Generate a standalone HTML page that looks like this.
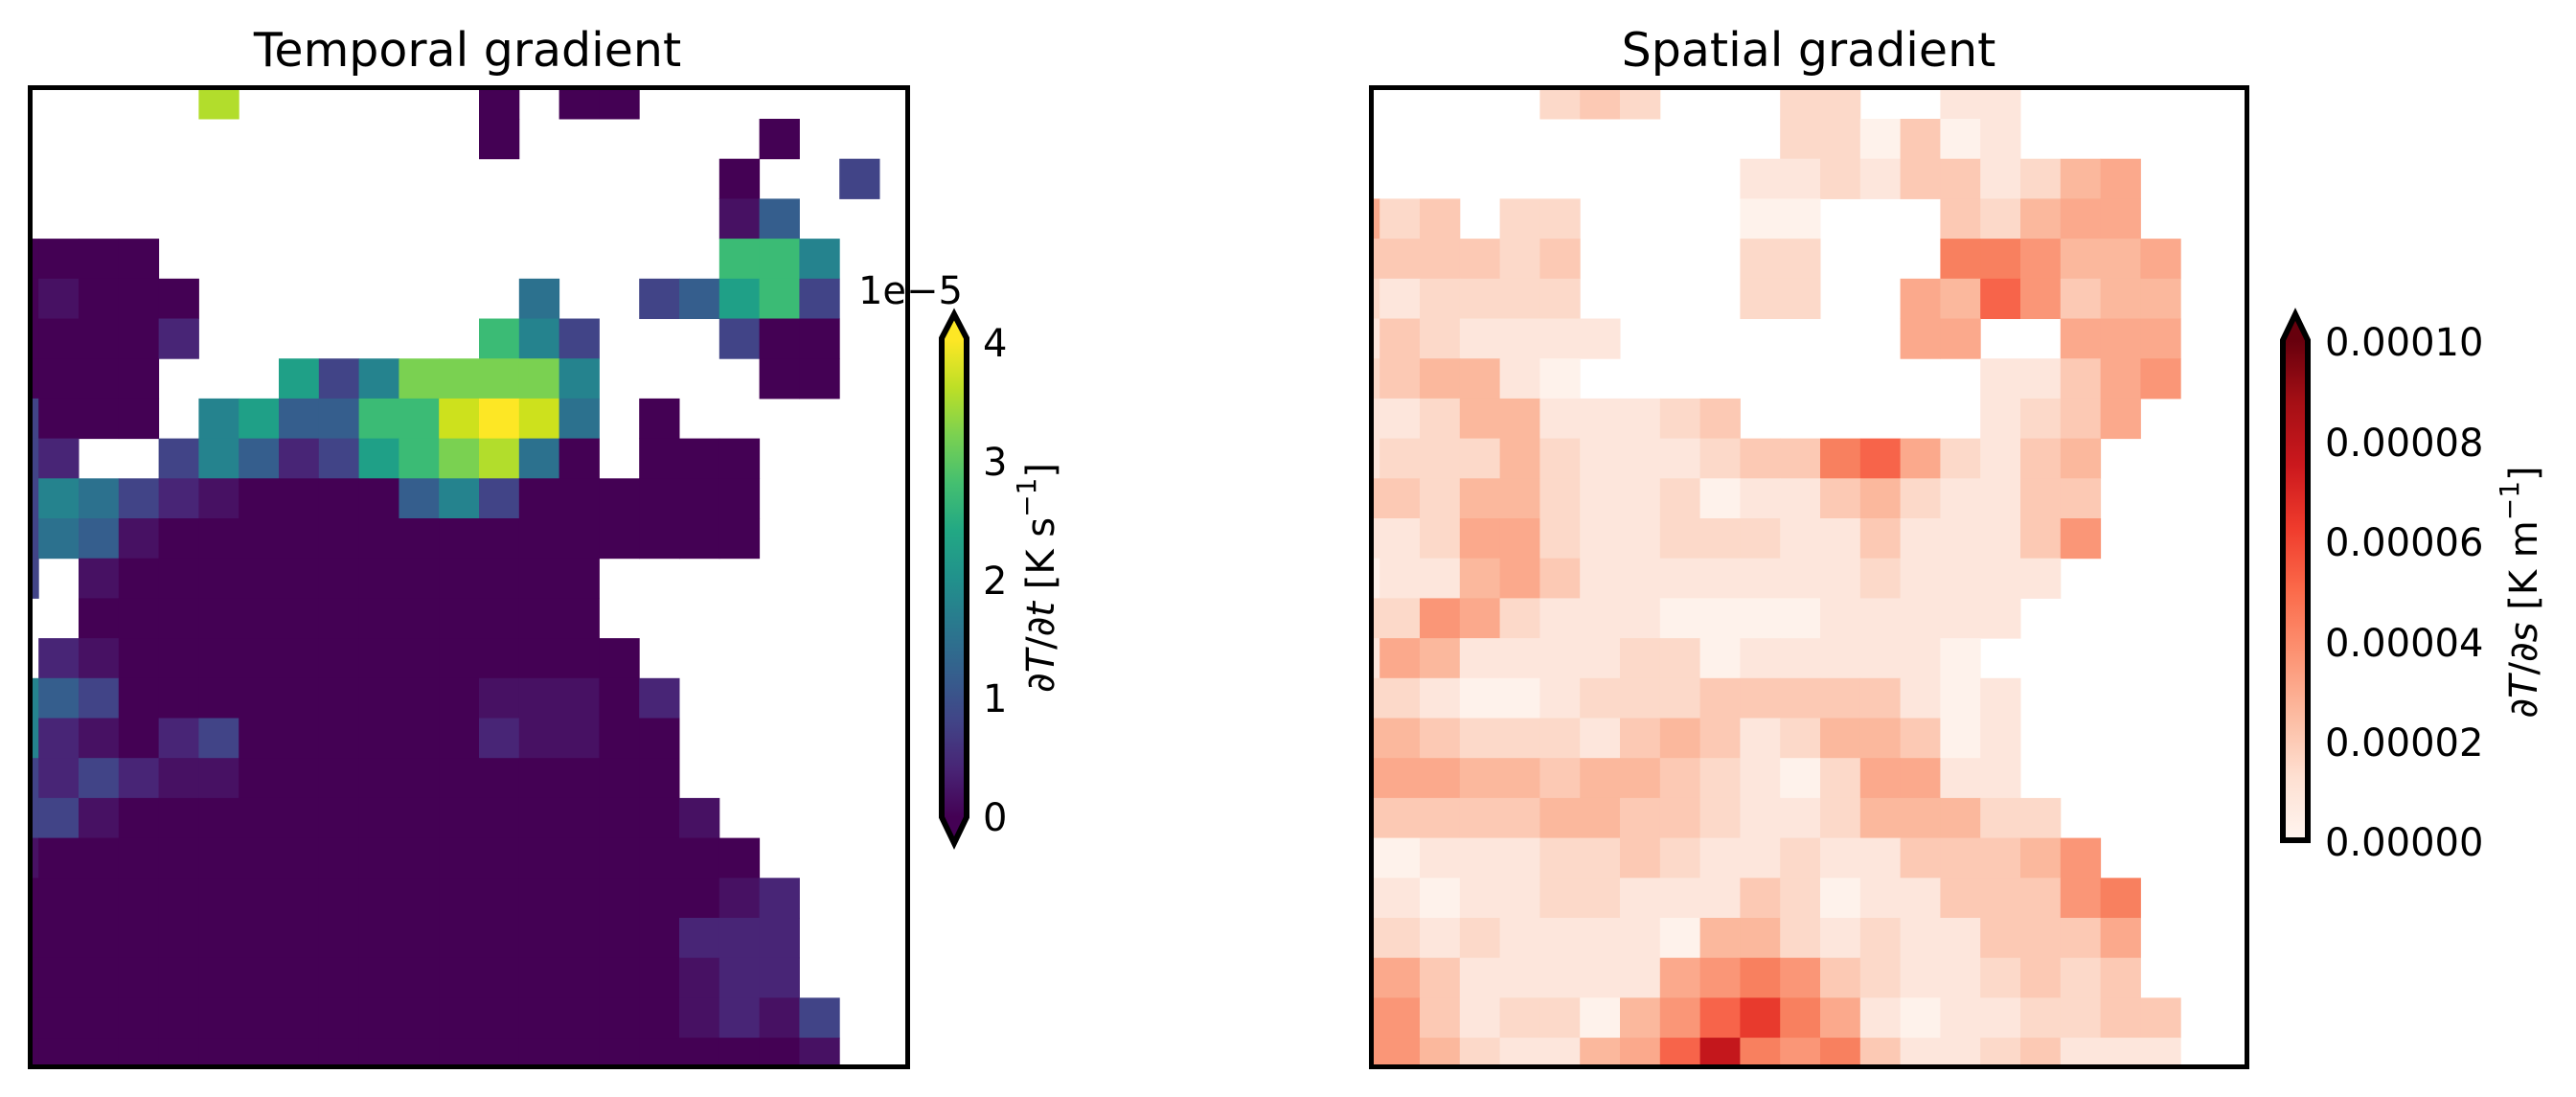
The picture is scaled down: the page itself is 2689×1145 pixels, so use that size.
<!DOCTYPE html>
<html><head><meta charset="utf-8"><style>
html,body{margin:0;padding:0;background:#fff;}
svg{display:block;font-family:"DejaVu Sans","Liberation Sans",sans-serif;}
</style></head><body>
<svg id="s" width="2689" height="1145" viewBox="0 0 2689 1145" xmlns="http://www.w3.org/2000/svg">
<defs>
<clipPath id="cl"><rect x="29" y="91" width="919" height="1024"/></clipPath>
<clipPath id="cr"><rect x="1429" y="91" width="916" height="1024"/></clipPath>
<linearGradient id="gv" gradientUnits="userSpaceOnUse" x1="0" y1="853" x2="0" y2="355">
<stop offset="0" stop-color="#440154"/><stop offset="0.1" stop-color="#482475"/><stop offset="0.2" stop-color="#414487"/><stop offset="0.3" stop-color="#355f8d"/><stop offset="0.4" stop-color="#2a788e"/><stop offset="0.5" stop-color="#21918c"/><stop offset="0.6" stop-color="#22a884"/><stop offset="0.7" stop-color="#44bf70"/><stop offset="0.8" stop-color="#7ad151"/><stop offset="0.9" stop-color="#bddf26"/><stop offset="1" stop-color="#fde725"/>
</linearGradient>
<linearGradient id="gr" gradientUnits="userSpaceOnUse" x1="0" y1="877" x2="0" y2="355">
<stop offset="0" stop-color="#fff5f0"/><stop offset="0.125" stop-color="#fee0d2"/><stop offset="0.25" stop-color="#fcbba1"/><stop offset="0.375" stop-color="#fc9272"/><stop offset="0.5" stop-color="#fb6a4a"/><stop offset="0.625" stop-color="#ef3b2c"/><stop offset="0.75" stop-color="#cb181d"/><stop offset="0.875" stop-color="#a50f15"/><stop offset="1" stop-color="#67000d"/>
</linearGradient>
</defs>
<g id="gl" clip-path="url(#cl)"></g>
<g id="gR" clip-path="url(#cr)"></g>
<rect x="31.5" y="91.5" width="916" height="1022" fill="none" stroke="#000" stroke-width="5"/>
<rect x="1431.5" y="91.5" width="914" height="1022" fill="none" stroke="#000" stroke-width="5"/>
<text x="488" y="69" font-size="49" text-anchor="middle">Temporal gradient</text>
<text x="1888" y="69" font-size="49" text-anchor="middle">Spatial gradient</text>
<polygon points="996,328 1009,353 1009,853 996,880 983,853 983,353" fill="url(#gv)" stroke="#000" stroke-width="6" stroke-linejoin="miter"/>
<g font-size="40">
<text x="1026" y="372">4</text>
<text x="1026" y="496">3</text>
<text x="1026" y="620">2</text>
<text x="1026" y="743">1</text>
<text x="1026" y="867">0</text>
<text x="1005" y="317" text-anchor="end">1e−5</text>
</g>
<text transform="translate(1087,603) rotate(-90)" font-size="40" text-anchor="middle" dominant-baseline="central">∂<tspan font-style="italic">T</tspan>/∂<tspan font-style="italic">t</tspan> [K s<tspan font-size="28" dy="-16">−1</tspan><tspan dy="16">]</tspan></text>
<polygon points="2396,328 2409,355 2409,877 2383,877 2383,355" fill="url(#gr)" stroke="#000" stroke-width="6" stroke-linejoin="miter"/>
<g font-size="40">
<text x="2427" y="371">0.00010</text>
<text x="2427" y="476">0.00008</text>
<text x="2427" y="580">0.00006</text>
<text x="2427" y="685">0.00004</text>
<text x="2427" y="789">0.00002</text>
<text x="2427" y="893">0.00000</text>
</g>
<text transform="translate(2635,618) rotate(-90)" font-size="40" text-anchor="middle" dominant-baseline="central">∂<tspan font-style="italic">T</tspan>/∂<tspan font-style="italic">s</tspan> [K m<tspan font-size="28" dy="-16">−1</tspan><tspan dy="16">]</tspan></text>
</svg>
<script>
var L=[".....y......p.pp.......","............p......p...","..................p..s.","..................qt...","pppp..............wwu..","pqppp........T..stvws..","ppppr.......wus...spp..","pppp...vsuxxxxu....pp..","sppp.uvttwwYzYT.p......","sr..sutrsvwxyTp.ppp....","suTsrqpppptuspppppp....","sTtqppppppppppppppp....","s.qpppppppppppp........","..ppppppppppppp........",".rqppppppppppppp.......","utspppppppppqqqpr......","urqprspppppprqqpp......","srsrqqppppppppppp......","ssqppppppppppppppq.....","qpppppppppppppppppp....","ppppppppppppppppppqr...","ppppppppppppppppprrr...","pppppppppppppppppqrr...","pppppppppppppppppqrqs..","ppppppppppppppppppppq.."];
var R=[".....cdc...cc..bb......","...........ccadab......","..........bbcbddbcef...","fcd.cc....aa...dceff...","ddddcd....cc...hhgeef..","cbcccc....cc..feigdee..","bdcbbbb.......ff..fff..","cdeeba..........bbdfg..","bbceebbbcd......bcdf...","bcccecbbbcddhifcbde....","ddceecbbcabbdecbbdd....","bbcffcbbcccbbdbbbdg....","abbefdbbbbbbbcbbbb.....","ccgfcbbbaaaabbbbb......","bfebbbbccabbbbba.......","ccbaabcccdddddbab......","eedcccbdedbceedab......","fffeedeedcbacffbb......","dddddeeddcbbceeecc.....","aabbbccdcbbcbbdddeg....","bbabbccbbbdcabbdddgh...","ccbcbbbbaeecbcbbdddf...","ffdbbbbbfghgdcbbcdcd...","ggdbccaegijhfbabbccdd..","ggecbbefikhghdbbcdbbb.."];
var V={p:"#440154",q:"#471163",r:"#482576",s:"#414487",t:"#355e8d",T:"#2c718e",u:"#25838e",v:"#1fa087",w:"#3bbb75",x:"#7ad151",y:"#b2dd2c",Y:"#cde11d",z:"#fde725"};
var C={a:"#fef2eb",b:"#fde6dc",c:"#fcd9c9",d:"#fcc9b4",e:"#fbb89d",f:"#fba98c",g:"#fa9677",h:"#f8805f",i:"#f7644a",j:"#e83a2d",k:"#c4171c"};
function draw(id,data,map,ox){var g=document.getElementById(id),ns="http://www.w3.org/2000/svg";
for(var r=0;r<data.length;r++){var s=data[r];for(var c=0;c<s.length;c++){var col=map[s[c]];if(!col)continue;
var e=document.createElementNS(ns,"rect");var x=ox+40.2+(c-1)*41.8,y=124+(r-1)*41.7;
e.setAttribute("x",x.toFixed(1));e.setAttribute("y",y.toFixed(1));e.setAttribute("width","42.3");e.setAttribute("height","42.2");e.setAttribute("fill",col);g.appendChild(e);}}}
draw("gl",L,V,0);draw("gR",R,C,1400);
</script>
</body></html>
